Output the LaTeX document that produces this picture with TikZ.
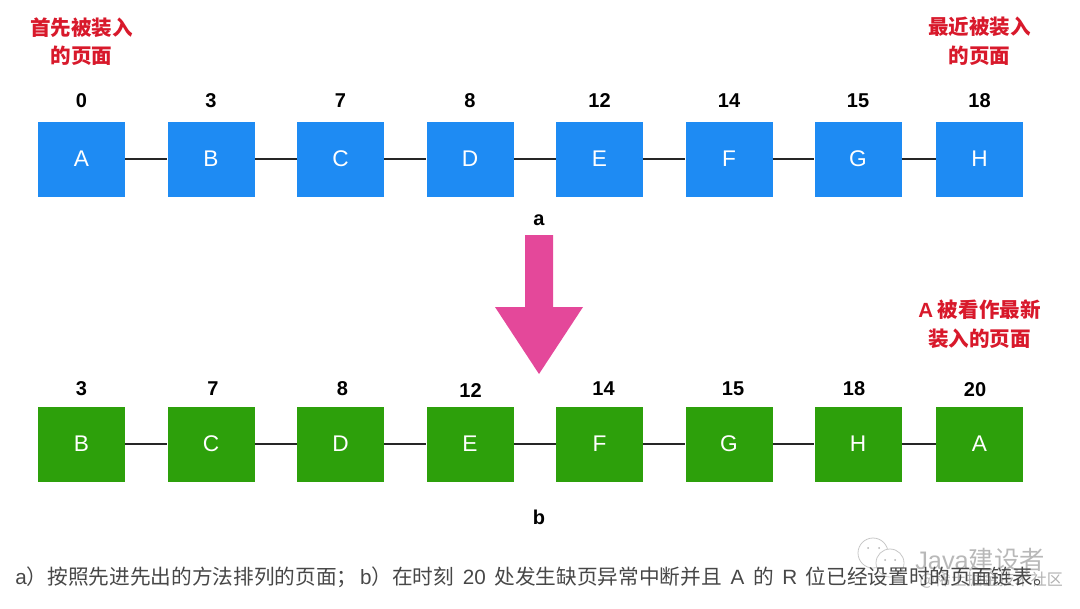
\documentclass[tikz,border=0pt]{standalone}
\usepackage{fontspec}
\setmainfont{Liberation Sans}
\newfontfamily\cjk{Noto Sans CJK SC}
\newcommand{\lat}[1]{{\fontspec{Liberation Sans}#1}}
\newcommand{\gap}{\hspace{6.5pt}}
\definecolor{pageblue}{HTML}{1E8BF3}
\definecolor{pagegreen}{HTML}{2DA00B}
\definecolor{notered}{HTML}{D8192B}
\definecolor{arrowpink}{HTML}{E4489A}
\tikzset{
  pagebox/.style={minimum width=65.25pt,minimum height=56.25pt,inner sep=0pt,text=white,font=\fontsize{17}{17}\selectfont},
  stamp/.style={font=\bfseries\fontsize{15}{15}\selectfont,inner sep=0pt},
  note/.style={text=notered,align=center,inner sep=0pt,font=\cjk\bfseries\fontsize{15.4}{21.5}\selectfont},
  link/.style={black!85,line width=1.2pt},
  wmline/.style={black!22,line width=0.6pt}
}
\begin{document}
\begin{tikzpicture}[x=0.75pt,y=-0.75pt]
  \useasboundingbox (0,0) rectangle (1080,608);
  % first row
  \foreach \i/\x/\t/\s in {1/81.5/A/0,2/211/B/3,3/340.5/C/7,4/470/D/8,5/599.5/E/12,6/729/F/14,7/858/G/15,8/979.5/H/18} {
    \node[pagebox,fill=pageblue] (a\i) at (\x,159) {\t};
    \node[stamp] (sa\i) at (\x,101) {\s};
  }
  \foreach \i [remember=\i as \j (initially 1)] in {2,...,8} {
    \draw[link] (a\j) -- (a\i);
  }
  % second row, the numbers are not quite above the boxes
  \foreach \i/\x/\t in {1/81.5/B,2/211/C,3/340.5/D,4/470/E,5/599.5/F,6/729/G,7/858/H,8/979.5/A} {
    \node[pagebox,fill=pagegreen] (b\i) at (\x,444) {\t};
  }
  \foreach \i/\x/\y/\s in {1/81.5/389/3,2/213/389/7,3/342.5/389/8,4/470.5/391/12,5/603.5/389/14,6/733/389/15,7/854/389/18,8/975/390/20} {
    \node[stamp] (sb\i) at (\x,\y) {\s};
  }
  \foreach \i [remember=\i as \j (initially 1)] in {2,...,8} {
    \draw[link] (b\j) -- (b\i);
  }
  \node[stamp] (rowa) at (539,220) {a};
  \node[stamp] (rowb) at (539,517) {b};
  \fill[arrowpink] (525,235)--(553,235)--(553,307)--(583,307)--(539,374)--(495,307)--(525,307)--cycle;
  \node[note] (first) at (81.5,41.5) {首先被装入\\的页面};
  \node[note] (last) at (979.5,41.5) {最近被装入\\的页面};
  \node[note] (moved) at (979.5,324.5) {\lat{\bfseries A} 被看作最新\\装入的页面};
  % watermark goes under the caption
  \draw[wmline] (873,553) circle (15);
  \draw[wmline,fill=white] (890,563) circle (14);
  \foreach \x/\y in {868/548,879/548,885/560,895/560} {
    \fill[black!30] (\x,\y) circle (1);
  }
  \node[inner sep=0pt,anchor=west,text=black!28,font=\cjk\fontsize{19}{19}\selectfont] (wmname) at (915,560) {\lat{Java}建设者};
  \node[inner sep=0pt,anchor=east,text=black!30,font=\cjk\fontsize{12}{12}\selectfont] (wmsite) at (1063,580) {@稀土掘金技术社区};
  \node[inner sep=0pt,anchor=west,text=black!72,font=\cjk\fontsize{15.5}{15.5}\selectfont] (caption) at (15,577) {\lat{a}）按照先进先出的方法排列的页面；\hspace{2pt}\lat{b}）在时刻\gap\lat{20}\gap 处发生缺页异常中断并且\gap\lat{A}\gap 的\gap\lat{R}\gap 位已经设置时的页面链表。};
\end{tikzpicture}
\end{document}
